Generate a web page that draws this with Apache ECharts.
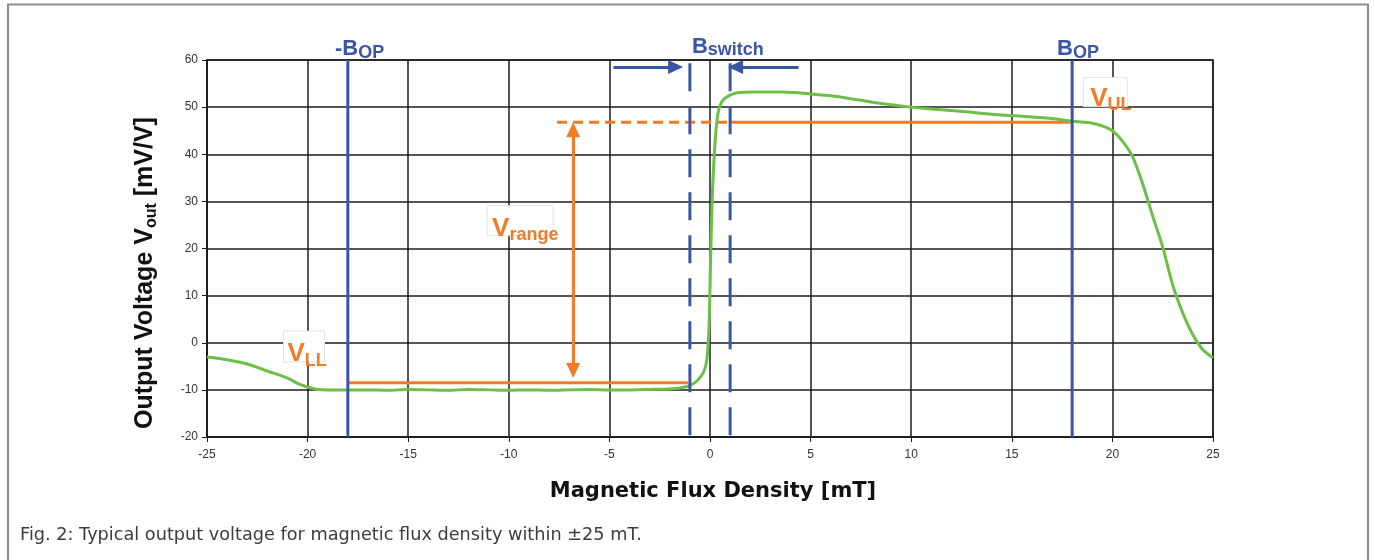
<!DOCTYPE html>
<html><head><meta charset="utf-8">
<script src="https://cdn.jsdelivr.net/npm/echarts@6/dist/echarts.min.js"></script>
<style>html,body{margin:0;padding:0;background:#fff}#c{width:1375px;height:560px}</style>
</head><body><div id="c"></div>
<script>
// ---- data ----
const fluxDensity = [-25, -24, -23, -22, -21, -20.5, -20, -19.5, -19,
  -18, -17, -16, -15, -14, -13, -12, -11, -10, -9, -8, -7, -6, -5, -4, -3, -2,
  -1.5, -1, -0.6, -0.3, -0.16, -0.05, 0.03, 0.12, 0.25, 0.4, 0.65,
  1.3, 2.3, 3.5, 4.5, 5, 6, 7, 8, 9, 10, 11, 12, 13, 14, 15, 16, 17, 18,
  19, 19.5, 20, 20.5, 21, 21.5, 22, 22.5, 23, 23.5, 24, 24.5, 25];
const outputVoltage = [-3.0, -3.6, -4.5, -6.0, -7.5, -8.6, -9.4, -9.9, -10.0,
  -10.0, -10.0, -10.1, -9.9, -10.0, -10.1, -9.9, -10.0, -10.1, -10.0, -10.1, -10.0, -9.9, -10.0, -10.0, -9.9, -9.8,
  -9.6, -9.1, -7.9, -6.0, -3.7, 3.4, 17.6, 31.7, 42.4, 48.7, 51.5,
  53.0, 53.2, 53.2, 53.0, 52.8, 52.4, 51.8, 51.1, 50.5, 50.0, 49.6, 49.3, 48.9, 48.5, 48.2, 47.9, 47.6, 47.0,
  46.6, 46.0, 45.0, 42.8, 39.5, 33.8, 26.9, 20.3, 12.2, 6.3, 1.7, -1.5, -3.2];

const bOpLines = [-18, 18];          // -B_OP, B_OP
const bSwitchLines = [-1, 1];        // B_switch window
const vUpperLimit = 46.8;            // V_UL
const vLowerLimit = -8.5;            // V_LL
const vRangeAt = -6.8;               // position of V_range arrow
const vRangeArrowEnds = [45.2, -5.9];
const vUpperDashFrom = -7.6;
const vLowerTo = -1.1;
const switchArrowY = 58.5;
const switchArrowLeft = [-4.8, -1.71];
const switchArrowRight = [4.4, 1.27];

const xMin = -25, xMax = 25, xStep = 5;
const yMin = -20, yMax = 60, yStep = 10;

const annotationMain = ['-B', 'B', 'B', 'V', 'V', 'V'];
const annotationSub  = ['OP', 'switch', 'OP', 'LL', 'UL', 'range'];
const annotationX    = [-18.64, -0.9, 17.25, -21.0, 18.9, -10.83];
const annotationY    = [60.7, 61.2, 60.7, -4.3, 49.9, 22.3];

const xTitle = 'Magnetic Flux Density [mT]';
const yTitleParts = ['Output Voltage V', 'out', ' [mV/V]'];
const caption = 'Fig. 2: Typical output voltage for magnetic flux density within \u00b125 mT.';

// ---- styles ----
const BLUE = '#3b55a6', ORANGE = '#f37a27', GREEN = '#6cbf47', GRIDC = '#1c1c1c';
const FONT = 'Liberation Sans, Arial, sans-serif';

const chart = echarts.init(document.getElementById('c'), null, {renderer: 'canvas'});

function seg(points, color, width, type, z) {
  return {type: 'line', data: points, symbol: 'none', silent: true, z: z || 3,
    lineStyle: {color: color, width: width, type: type || 'solid', cap: 'butt'}};
}

const series = [];
// orange limits
const lower = seg([[bOpLines[0], vLowerLimit], [vLowerTo, vLowerLimit]], ORANGE, 3, 'solid', 3);
lower.markLine = {
  silent: true, animation: false, symbol: ['triangle', 'triangle'], symbolSize: [14, 15],
  lineStyle: {color: ORANGE, width: 3, type: 'solid'}, itemStyle: {color: ORANGE},
  label: {show: false},
  data: [[{coord: [vRangeAt, vRangeArrowEnds[0]]}, {coord: [vRangeAt, vRangeArrowEnds[1]]}]]
};
series.push(lower);
series.push(seg([[vUpperDashFrom, vUpperLimit], [bSwitchLines[1], vUpperLimit]], ORANGE, 3, [10, 6], 3));
series.push(seg([[bSwitchLines[1], vUpperLimit], [bOpLines[1], vUpperLimit]], ORANGE, 3, 'solid', 3));
// green curve
series.push({type: 'line', data: fluxDensity.map((b, i) => [b, outputVoltage[i]]), symbol: 'none',
  smooth: 0.3, silent: true, z: 4,
  lineStyle: {color: GREEN, width: 3}});
// blue solid B_OP lines
bOpLines.forEach(b => series.push(seg([[b, yMax], [b, yMin]], BLUE, 3, 'solid', 5)));
// blue dashed switch lines
bSwitchLines.forEach(b => series.push(seg([[b, 59.3], [b, yMin]], BLUE, 3, [28, 15], 5)));
// blue arrows
const arrowHolder = seg([], BLUE, 3, 'solid', 5);
arrowHolder.markLine = {
  silent: true, animation: false, symbol: ['none', 'triangle'], symbolSize: [14, 15],
  lineStyle: {color: BLUE, width: 3, type: 'solid'}, itemStyle: {color: BLUE},
  label: {show: false},
  data: [
    [{coord: [switchArrowLeft[0], switchArrowY]}, {coord: [switchArrowLeft[1], switchArrowY]}],
    [{coord: [switchArrowRight[0], switchArrowY]}, {coord: [switchArrowRight[1], switchArrowY]}]
  ]
};
series.push(arrowHolder);

const axisCommon = {
  type: 'value',
  axisLine: {show: true, onZero: false, lineStyle: {color: GRIDC, width: 1.5}},
  axisTick: {show: true, length: 5, lineStyle: {color: GRIDC, width: 1}},
  splitLine: {show: true, lineStyle: {color: GRIDC, width: 1.5}},
  axisLabel: {color: '#333', fontSize: 12, fontFamily: FONT}
};

chart.setOption({
  animation: false,
  backgroundColor: '#ffffff',
  grid: {left: 207, right: 162, top: 60, bottom: 123, show: true, borderColor: GRIDC, borderWidth: 1.5, backgroundColor: 'transparent'},
  xAxis: Object.assign({}, axisCommon, {min: xMin, max: xMax, interval: xStep,
    axisLabel: Object.assign({}, axisCommon.axisLabel, {margin: 12})}),
  yAxis: Object.assign({}, axisCommon, {min: yMin, max: yMax, interval: yStep,
    axisLabel: Object.assign({}, axisCommon.axisLabel, {margin: 9})}),
  series: series
});

// ---- annotations (positioned from data coordinates) ----
const mctx = document.createElement('canvas').getContext('2d');
function tw(t, font) { mctx.font = font; return mctx.measureText(t).width; }
function txt(x, base, t, size, weight, color, family, z) {
  const font = weight + ' ' + size + 'px ' + (family || FONT);
  return {type: 'text', x: x, y: base + 0.1535 * size, z: z || 100, silent: true,
    style: {text: t, font: font, fill: color, align: 'left', verticalAlign: 'bottom'}};
}
const g = [];
// outer frame
g.push({type: 'rect', shape: {x: 8, y: 4.5, width: 1360, height: 620}, z: 1, silent: true,
  style: {fill: 'none', stroke: '#8c8c8c', lineWidth: 2}});
const boxes = {3: [-4, -32, 41, 31], 4: [-7, -30, 44, 29], 5: [-5, -32, 66, 30]};
annotationMain.forEach((m, i) => {
  const p = chart.convertToPixel({gridIndex: 0}, [annotationX[i], annotationY[i]]);
  const isBlue = i < 3;
  const color = isBlue ? BLUE : ORANGE;
  const mainSize = isBlue ? 22 : 26;
  const subSize = 18;
  const dy = isBlue ? (i === 1 ? 2 : 3) : 4;
  if (boxes[i]) {
    const b = boxes[i];
    g.push({type: 'rect', shape: {x: p[0] + b[0], y: p[1] + b[1], width: b[2], height: b[3]}, z: 90, silent: true,
      style: {fill: '#ffffff', stroke: '#e3e3e3', lineWidth: 1}});
  }
  const mf = 'bold ' + mainSize + 'px ' + FONT;
  g.push(txt(p[0], p[1], m, mainSize, 'bold', color));
  g.push(txt(p[0] + tw(m, mf), p[1] + dy, annotationSub[i], subSize, 'bold', color));
});
// y axis title (rotated group)
const yt = {type: 'group', x: 154, y: 429, rotation: Math.PI / 2, children: [], z: 100};
{
  const f1 = 'bold 25px ' + FONT, f2 = 'bold 16px ' + FONT;
  let cx = 0;
  yt.children.push(txt(cx, 0, yTitleParts[0], 25, 'bold', '#111')); cx += tw(yTitleParts[0], f1);
  yt.children.push(txt(cx, 3, yTitleParts[1], 16, 'bold', '#111')); cx += tw(yTitleParts[1], f2);
  yt.children.push(txt(cx, 0, yTitleParts[2], 25, 'bold', '#111'));
}
g.push(yt);
// x axis title
g.push({type: 'text', x: 713, y: 492, z: 100, silent: true,
  style: {text: xTitle, font: 'bold 21px DejaVu Sans, sans-serif', fill: '#111', align: 'center', verticalAlign: 'middle'}});
// caption
g.push({type: 'text', x: 20, y: 535, z: 100, silent: true,
  style: {text: caption, font: '17.7px DejaVu Sans, sans-serif', fill: '#3c3c3c', align: 'left', verticalAlign: 'middle'}});

chart.setOption({graphic: g});
</script>
</body></html>
